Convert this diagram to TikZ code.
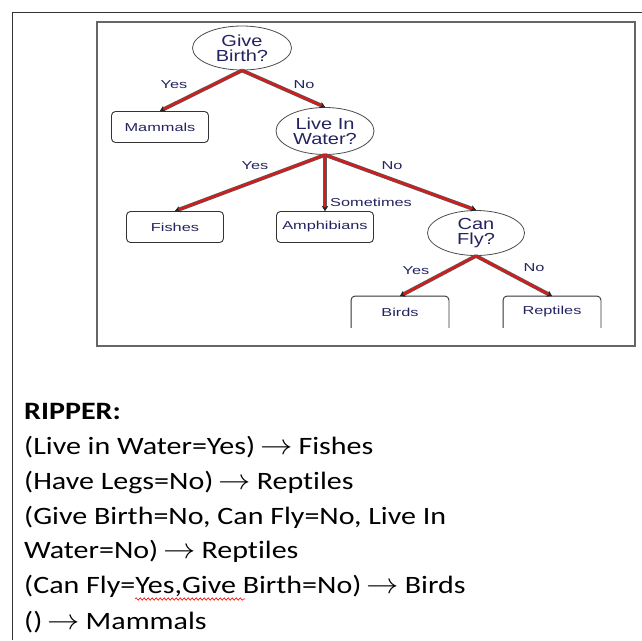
\documentclass[tikz,border=0pt]{standalone}
\usepackage{fontspec}
\usetikzlibrary{shapes.geometric,arrows.meta,decorations.pathmorphing}
\newfontfamily\treefont[FakeStretch=1.25]{Liberation Sans}
\newfontfamily\smallfont[FakeStretch=1.42]{Liberation Sans}
\newfontfamily\ripfont[FakeStretch=1.2,Ligatures=NoCommon]{Carlito}
\definecolor{navy}{RGB}{35,35,95}
\definecolor{edgered}{RGB}{212,28,28}
\newcommand{\ripar}{\hspace{5pt}\scalebox{1.3}[1.15]{$\rightarrow$}\hspace{6pt}}
\tikzset{
  decision/.style={ellipse, draw=black!70, line width=0.8pt, inner sep=0pt,
    align=center, text=navy, font=\treefont\fontsize{16}{15}\selectfont},
  leafbox/.style={rectangle, rounded corners=4pt, draw=black!80, line width=0.9pt,
    inner sep=0pt, minimum width=97pt, minimum height=31pt, text=navy,
    font=\smallfont\fontsize{11.5}{13}\selectfont},
  openbox/.style={leafbox, draw=none},
  edge/.style={draw=edgered, line width=2.4pt,
    preaction={draw=black!65, line width=3.8pt},
    -{Stealth[length=5pt,width=6pt,black!85]}},
  elabel/.style={text=navy, inner sep=0pt, font=\smallfont\fontsize{11.5}{13}\selectfont},
  ripline/.style={anchor=base west, inner sep=0pt, font=\ripfont\fontsize{25}{30}\selectfont}
}
\begin{document}
\begin{tikzpicture}[x=1pt,y=-1pt]
\useasboundingbox (0,0) rectangle (642,640);
% frames
\draw[black!80, line width=0.8pt] (12,640) -- (12,12) -- (642,12);
\draw[black!60, line width=1.4pt] (97,22) rectangle (635,346);
% nodes
\node[decision, minimum width=99pt, minimum height=44pt] (gb) at (242,48) {Give\\Birth?};
\node[leafbox] (mam) at (160,127) {Mammals};
\node[decision, minimum width=98pt, minimum height=47pt] (liw) at (325,131) {Live In\\Water?};
\node[leafbox] (fish) at (175,227) {Fishes};
\node[leafbox] (amph) at (325,227) {Amphibians};
\node[decision, minimum width=97pt, minimum height=45pt] (cf) at (476,233) {Can\\Fly?};
\node[openbox] (bird) at (400,312) {Birds};
\node[openbox] (rept) at (552,312) {Reptiles};
\draw[black!80, line width=0.9pt, rounded corners=4pt]
  (bird.south west) -- (bird.north west) -- (bird.north east) -- (bird.south east);
\draw[black!80, line width=0.9pt, rounded corners=4pt]
  (rept.south west) -- (rept.north west) -- (rept.north east) -- (rept.south east);
% edges
\draw[edge] (gb.south) -- (mam.north);
\draw[edge] (gb.south) -- (liw.north);
\draw[edge] (liw.south) -- (fish.north);
\draw[edge] (liw.south) -- (amph.north);
\draw[edge] (liw.south) -- (cf.north);
\draw[edge] (cf.south) -- (bird.north);
\draw[edge] (cf.south) -- (rept.north);
% edge labels
\node[elabel] (l1) at (174,85) {Yes};
\node[elabel] (l2) at (304,85) {No};
\node[elabel] (l3) at (255,166) {Yes};
\node[elabel] (l4) at (392,166) {No};
\node[elabel, anchor=west] (l5) at (330,202) {Sometimes};
\node[elabel] (l6) at (416,271) {Yes};
\node[elabel] (l7) at (534,268) {No};
% rules
\node[ripline] (r0) at (24,419) {\bfseries RIPPER:};
\node[ripline] (r1) at (24,454) {(Live in Water=Yes)\ripar Fishes};
\node[ripline] (r2) at (24,489) {(Have Legs=No)\ripar Reptiles};
\node[ripline] (r3) at (24,524) {(Give Birth=No, Can Fly=No, Live In};
\node[ripline] (r4) at (24,558) {Water=No)\ripar Reptiles};
\node[ripline] (r5) at (24,593) {(Can Fly=Yes,Give Birth=No)\ripar Birds};
\node[ripline] (r6) at (24,629) {()\ripar Mammals};
\draw[red, line width=0.6pt, decorate, decoration={snake, amplitude=1.2pt, segment length=4pt}]
  (135,599) -- (245,599);
\end{tikzpicture}
\end{document}
